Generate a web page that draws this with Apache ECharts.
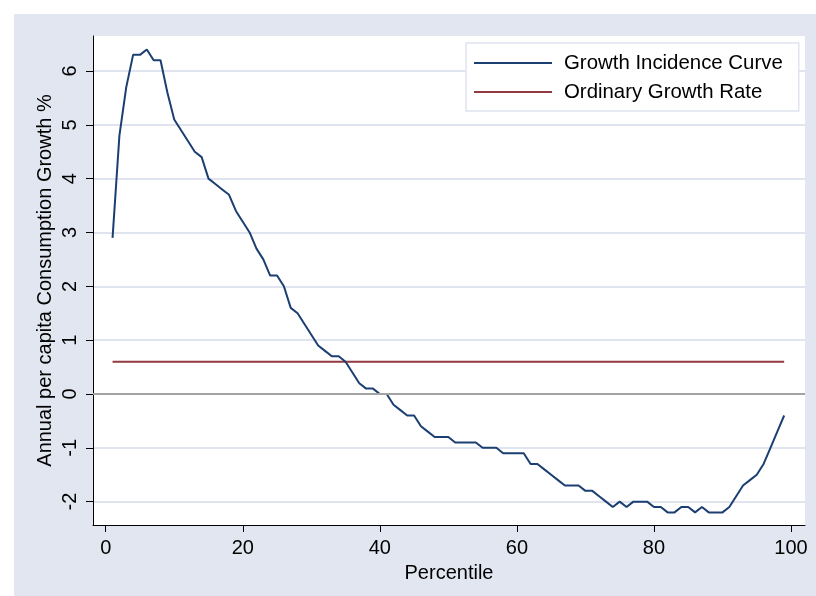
<!DOCTYPE html>
<html>
<head>
<meta charset="utf-8">
<title>Growth Incidence Curve</title>
<script src="https://cdn.jsdelivr.net/npm/echarts@6/dist/echarts.min.js"></script>
<style>
  html, body { margin: 0; padding: 0; background: #ffffff; }
  #chart { width: 816px; height: 596px; }
</style>
</head>
<body>
<div id="chart"></div>
<script>
// Percentiles of the consumption distribution (1..99)
const percentiles = Array.from({ length: 99 }, (_, i) => i + 1);

// Annual per capita consumption growth (%) at each percentile
const growthIncidence = [
  2.9, 4.8, 5.7, 6.3, 6.3, 6.4, 6.2, 6.2, 5.6, 5.1,
  4.9, 4.7, 4.5, 4.4, 4.0, 3.9, 3.8, 3.7, 3.4, 3.2,
  3.0, 2.7, 2.5, 2.2, 2.2, 2.0, 1.6, 1.5, 1.3, 1.1,
  0.9, 0.8, 0.7, 0.7, 0.6, 0.4, 0.2, 0.1, 0.1, 0.0,
  0.0, -0.2, -0.3, -0.4, -0.4, -0.6, -0.7, -0.8, -0.8, -0.8,
  -0.9, -0.9, -0.9, -0.9, -1.0, -1.0, -1.0, -1.1, -1.1, -1.1,
  -1.1, -1.3, -1.3, -1.4, -1.5, -1.6, -1.7, -1.7, -1.7, -1.8,
  -1.8, -1.9, -2.0, -2.1, -2.0, -2.1, -2.0, -2.0, -2.0, -2.1,
  -2.1, -2.2, -2.2, -2.1, -2.1, -2.2, -2.1, -2.2, -2.2, -2.2,
  -2.1, -1.9, -1.7, -1.6, -1.5, -1.3, -1.0, -0.7, -0.4
];

// Ordinary (mean) growth rate, %
const ordinaryRate = 0.6;

// Axis tick values
const xTicks = [0, 20, 40, 60, 80, 100];
const yTicks = [-2, -1, 0, 1, 2, 3, 4, 5, 6];

const FONT = "'Liberation Sans', Arial, Helvetica, sans-serif";
const NAVY = '#1b3f72';
const MAROON = '#923a3f';

const chart = echarts.init(document.getElementById('chart'), null, { renderer: 'canvas' });

chart.setOption({
  animation: false,
  backgroundColor: '#ffffff',
  textStyle: { fontFamily: FONT },
  graphic: {
    elements: [{
      type: 'rect',
      z: -100,
      silent: true,
      shape: { x: 14, y: 14, width: 802, height: 582 },
      style: { fill: '#e2e6f0' }
    }]
  },
  grid: {
    left: 93, right: 11, top: 36, bottom: 71,
    show: true, backgroundColor: '#ffffff', borderWidth: 0
  },
  legend: {
    data: ['Growth Incidence Curve', 'Ordinary Growth Rate'],
    orient: 'vertical',
    left: 466, top: 43,
    padding: [10, 16, 9, 8],
    itemGap: 9,
    itemWidth: 78,
    itemHeight: 2,
    icon: 'rect',
    backgroundColor: '#ffffff',
    borderColor: '#dfe4ee',
    borderWidth: 1.5,
    borderRadius: 0,
    textStyle: { fontFamily: FONT, fontSize: 20.4, color: '#000', lineHeight: 20, padding: [0, 0, 0, 7] }
  },
  xAxis: {
    type: 'value',
    min: -1.853, max: 102.04,
    name: 'Percentile',
    nameLocation: 'middle',
    nameGap: 38,
    nameMoveOverlap: false,
    nameTextStyle: { fontFamily: FONT, fontSize: 20, color: '#000' },
    axisLine: { show: true, onZero: false, lineStyle: { color: '#000', width: 1 } },
    axisTick: { show: true, length: 7, inside: false, customValues: xTicks, lineStyle: { color: '#000', width: 1 } },
    axisLabel: { show: true, customValues: xTicks, margin: 13, fontFamily: FONT, fontSize: 20, color: '#000' },
    splitLine: { show: false }
  },
  yAxis: {
    type: 'value',
    min: -2.434, max: 6.65,
    name: 'Annual per capita Consumption Growth %',
    nameLocation: 'middle',
    nameGap: 38,
    nameMoveOverlap: false,
    nameRotate: 90,
    nameTextStyle: { fontFamily: FONT, fontSize: 20, color: '#000' },
    axisLine: { show: true, onZero: false, lineStyle: { color: '#000', width: 1 } },
    axisTick: { show: true, length: 7, inside: false, customValues: yTicks, lineStyle: { color: '#000', width: 1 } },
    axisLabel: { show: true, customValues: yTicks, rotate: 90, margin: 13, fontFamily: FONT, fontSize: 20, color: '#000' },
    splitLine: { show: true, lineStyle: { color: '#dfe4ee', width: 2 } }
  },
  series: [
    {
      name: 'Ordinary Growth Rate',
      type: 'line',
      symbol: 'none',
      data: percentiles.map(p => [p, ordinaryRate]),
      lineStyle: { color: MAROON, width: 2 },
      itemStyle: { color: MAROON },
      z: 3,
      markLine: {
        silent: true,
        symbol: 'none',
        label: { show: false },
        lineStyle: { color: '#a3a3a3', width: 2, type: 'solid' },
        data: [{ yAxis: 0 }]
      }
    },
    {
      name: 'Growth Incidence Curve',
      type: 'line',
      symbol: 'none',
      data: percentiles.map((p, i) => [p, growthIncidence[i]]),
      lineStyle: { color: NAVY, width: 2 },
      itemStyle: { color: NAVY },
      z: 4
    }
  ]
});
</script>
</body>
</html>
